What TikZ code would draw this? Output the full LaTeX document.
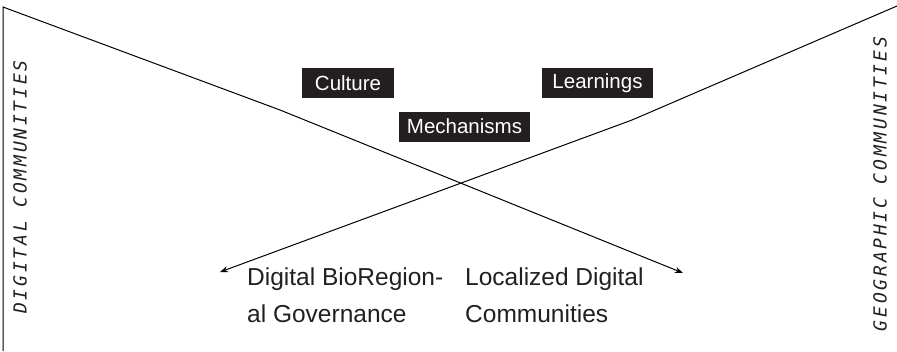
\documentclass[tikz,border=0pt]{standalone}
\usepackage{fontspec}
\setmainfont{Liberation Sans}
\newfontfamily\techfont{DejaVu Sans Mono}[LetterSpace=15.5]
\usetikzlibrary{arrows.meta}
\definecolor{ink}{HTML}{231F20}

\begin{document}
\begin{tikzpicture}[x=1pt,y=-1pt,>={Stealth[length=8pt,width=6pt]},
  tag/.style={fill=ink,text=white,font=\fontsize{20.5}{20.5}\selectfont,inner xsep=0pt,inner ysep=0pt,minimum height=30pt},
  side/.style={rotate=90,text=ink,font=\techfont\itshape\fontsize{18}{18}\selectfont},
  result/.style={align=left,anchor=base west,inner sep=0pt,text=ink,font=\fontsize{24.5}{37}\selectfont},
  ln/.style={line width=1pt}]
  \useasboundingbox (0,0) rectangle (897,351);
  % crossing lines
  \coordinate (bl) at (3,351);\coordinate (tl) at (3,7);\coordinate (tr) at (897,6);
  \coordinate (ka) at (280,110);\coordinate (kb) at (632,120);
  \coordinate (ea) at (683,273);\coordinate (eb) at (220,272);
  \draw[ln,->](bl)--(tl)--(ka)--(ea);
  \draw[ln,->](tr)--(kb)--(eb);
  % side labels
  \node[side](dig) at (20,187){DIGITAL COMMUNITIES};
  \node[side](geo) at (880,184){GEOGRAPHIC COMMUNITIES};
  % tags
  \node[tag,minimum width=92pt](cult) at (348,83){Culture};
  \node[tag,minimum width=111pt](lrn) at (597.5,83){Learnings};
  \node[tag,minimum width=131pt](mech) at (464.5,126.5){Mechanisms};
  % outcomes (anchored at the last baseline)
  \node[result](gov) at (247,322){Digital BioRegion-\\al Governance};
  \node[result](loc) at (465,322){Localized Digital\\Communities};
\end{tikzpicture}
\end{document}
